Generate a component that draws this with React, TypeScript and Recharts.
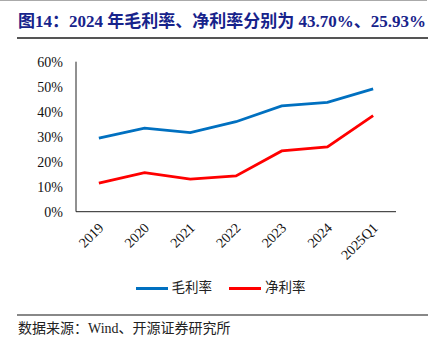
import React from 'react';
import { LineChart, Line, XAxis, YAxis, Legend } from 'recharts';

const categories = ['2019', '2020', '2021', '2022', '2023', '2024', '2025Q1'];
const seriesNames = ['毛利率', '净利率'];
const grossMargin = [29.4, 33.4, 31.6, 36.0, 42.3, 43.7, 49.1];
const netMargin = [11.4, 15.6, 13.0, 14.3, 24.3, 25.93, 38.4];
const yTicks = [0, 10, 20, 30, 40, 50, 60];
const frameTicks = [0, 1, 2, 3, 4, 5, 6, 7];

const data = categories.map((c, i) => ({ year: c, gross: grossMargin[i], net: netMargin[i] }));

const SERIF = '"Times New Roman", "Liberation Serif", "Noto Sans CJK SC", serif';
const CJK = '"Liberation Serif", "Noto Sans CJK SC", serif';

const XTick = (props: any) => {
  const { x, y, payload } = props;
  return (
    <g transform={`translate(${x + 5.5},${y + 17})`}>
      <text x={0} y={0} textAnchor="end" transform="rotate(-45)" fontSize={14} fontFamily={SERIF} fill="#111">
        {payload.value}
      </text>
    </g>
  );
};

const LegendContent = (props: any) => {
  const payload = [...(props.payload || [])].sort(
    (a: any, b: any) => seriesNames.indexOf(a.value) - seriesNames.indexOf(b.value)
  );
  return (
    <div style={{ display: 'flex', justifyContent: 'center', alignItems: 'center', gap: 17, paddingLeft: 4 }}>
      {payload.map((p: any) => (
        <div key={p.value} style={{ display: 'flex', alignItems: 'center' }}>
          <div style={{ width: 32, height: 3, background: p.color, marginRight: 4 }} />
          <span style={{ fontSize: 13.5, fontFamily: CJK, color: '#222', lineHeight: '16px' }}>{p.value}</span>
        </div>
      ))}
    </div>
  );
};

export default function App() {
  return (
    <div style={{ position: 'absolute', left: 0, top: 0, width: 437, height: 352, background: '#fff', overflow: 'hidden' }}>
      <div style={{ position: 'absolute', left: 0, top: 0, width: 427, height: 1, background: '#aaa' }} />
      <div
        style={{
          position: 'absolute', left: 18, top: 12, whiteSpace: 'nowrap', fontSize: 17, fontWeight: 'bold',
          fontFamily: CJK, color: '#17238b', lineHeight: '20px',
        }}
      >
        图14：2024 年毛利率、净利率分别为 43.70%、25.93%
      </div>
      <div style={{ position: 'absolute', left: 17, top: 37, width: 411, height: 2, background: '#555' }} />
      <div style={{ position: 'absolute', left: 0, top: 0 }}>
        <LineChart width={437} height={352} data={data} margin={{ top: 61.7, right: 41, bottom: 139.3, left: 75 }}>
          <XAxis xAxisId="cat" dataKey="year" scale="band" height={1} tickLine={false} axisLine={false} tickSize={0} tickMargin={0} tick={<XTick />} interval={0} />
          <XAxis xAxisId="frame" type="number" domain={[0, 7]} ticks={frameTicks} height={1} mirror tick={false} tickSize={4} axisLine={{ stroke: '#222' }} tickLine={{ stroke: '#222' }} allowDataOverflow />
          <YAxis yAxisId="val" domain={[0, 60]} ticks={yTicks} width={1} tickLine={false} axisLine={false} tickSize={0} tickMargin={13} tickFormatter={(v: number) => `${v}%`} tick={{ fontSize: 14, fontFamily: SERIF, fill: '#111' }} interval={0} />
          <YAxis yAxisId="frame" domain={[0, 60]} ticks={yTicks} width={1} mirror tick={false} tickSize={4} axisLine={{ stroke: '#222' }} tickLine={{ stroke: '#222' }} allowDataOverflow />
          <Legend verticalAlign="middle" align="center" layout="horizontal" content={<LegendContent />} wrapperStyle={{ top: 280, left: 0, width: 437 }} />
          <Line xAxisId="cat" yAxisId="val" dataKey="gross" name="毛利率" stroke="#0070C0" strokeWidth={2.8} dot={false} isAnimationActive={false} />
          <Line xAxisId="cat" yAxisId="val" dataKey="net" name="净利率" stroke="#FF0000" strokeWidth={2.8} dot={false} isAnimationActive={false} />
        </LineChart>
      </div>
      <div style={{ position: 'absolute', left: 17, top: 314, width: 411, height: 1.5, background: '#888' }} />
      <div style={{ position: 'absolute', left: 18, top: 320, whiteSpace: 'nowrap', fontSize: 14, fontFamily: CJK, color: '#222', lineHeight: '18px' }}>
        数据来源：Wind、开源证券研究所
      </div>
    </div>
  );
}
